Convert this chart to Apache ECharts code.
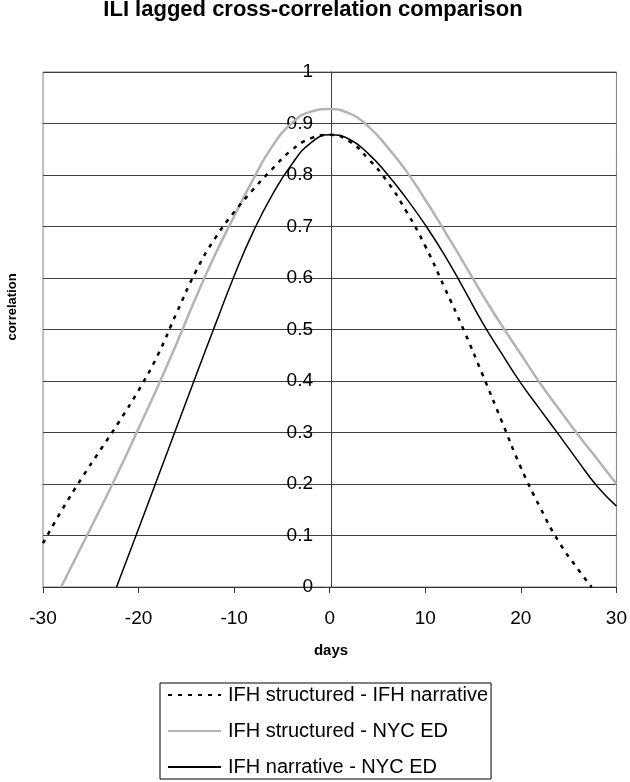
<!DOCTYPE html>
<html>
<head>
<meta charset="utf-8">
<script src="https://cdn.jsdelivr.net/npm/echarts@6/dist/echarts.min.js"></script>
<style>html,body{margin:0;padding:0;background:#fff}#c{width:630px;height:782px}</style>
</head>
<body>
<div id="c"></div>
<script>
var titleText = 'ILI lagged cross-correlation comparison';
var xAxisName = 'days';
var yAxisName = 'correlation';
var seriesNames = ['IFH structured - IFH narrative', 'IFH structured - NYC ED', 'IFH narrative - NYC ED'];

// [day, correlation]
var structNarrative = [[-30,0.085],[-28,0.15],[-26,0.21],[-24,0.266],[-22,0.322],[-20,0.382],[-18,0.45],[-16,0.533],[-14,0.613],[-12,0.677],[-10,0.728],[-8,0.772],[-6,0.812],[-4,0.848],[-2,0.871],[0,0.878],[2,0.866],[4,0.832],[6,0.788],[8,0.73],[10,0.662],[12,0.582],[14,0.5],[16,0.412],[18,0.322],[20,0.232],[22,0.155],[24,0.087],[26,0.034],[27.4,0]];
var structNYC = [[-28.1,0],[-26,0.078],[-24,0.152],[-22,0.228],[-20,0.308],[-18,0.389],[-16,0.474],[-14,0.562],[-12,0.645],[-10,0.72],[-8,0.792],[-6,0.856],[-4,0.9],[-2,0.923],[0,0.928],[2,0.92],[4,0.895],[6,0.855],[8,0.808],[10,0.752],[12,0.692],[14,0.63],[16,0.567],[18,0.508],[20,0.452],[22,0.396],[24,0.345],[26,0.295],[28,0.248],[30,0.2]];
var narrativeNYC = [[-22.3,0],[-22,0.015],[-20,0.113],[-18,0.212],[-16,0.311],[-14,0.41],[-12,0.508],[-10,0.604],[-8,0.69],[-6,0.762],[-4,0.82],[-2,0.862],[0,0.878],[2,0.87],[4,0.842],[6,0.802],[8,0.755],[10,0.703],[12,0.645],[14,0.58],[16,0.513],[18,0.453],[20,0.396],[22,0.345],[24,0.295],[26,0.244],[28,0.195],[30,0.157]];

var chart = echarts.init(document.getElementById('c'), null, {renderer: 'canvas'});
var FONT = '"Liberation Sans", Arial, sans-serif';
chart.setOption({
  animation: false,
  backgroundColor: '#fff',
  textStyle: {fontFamily: FONT},
  grid: {left: 43, right: 11, top: 72, bottom: 195, show: true, borderColor: '#808080', borderWidth: 1},
  graphic: [
    {type: 'text', x: 313, y: 10, style: {text: titleText, font: 'bold 22px ' + FONT, fill: '#000', align: 'center', verticalAlign: 'middle'}},
    {type: 'text', x: 331, y: 651, style: {text: xAxisName, font: 'bold 15px ' + FONT, fill: '#000', align: 'center', verticalAlign: 'middle'}},
    {type: 'text', x: 12, y: 307, rotation: Math.PI / 2, style: {text: yAxisName, font: 'bold 13px ' + FONT, fill: '#000', align: 'center', verticalAlign: 'middle'}}
  ],
  legend: {
    orient: 'vertical', left: 160, top: 683,
    padding: [2, 3, 2, 7],
    borderColor: '#000', borderWidth: 1,
    itemWidth: 53, itemHeight: 14, itemGap: 16,
    itemStyle: {opacity: 0},
    textStyle: {fontSize: 20, color: '#000', fontFamily: FONT, lineHeight: 20, padding: [0, 0, 0, 2]},
    data: seriesNames
  },
  xAxis: {
    type: 'value', min: -30, max: 30, interval: 10,
    axisLine: {show: true, onZero: false, lineStyle: {color: '#333', width: 1}},
    axisTick: {show: true, length: 6, lineStyle: {color: '#333'}},
    axisLabel: {fontSize: 19, color: '#000', margin: 22, fontFamily: FONT},
    splitLine: {show: false}
  },
  yAxis: {
    type: 'value', min: 0, max: 1, interval: 0.1,
    position: 'left', offset: -288,
    axisLine: {show: true, onZero: false, lineStyle: {color: '#404040', width: 1}},
    axisTick: {show: true, length: 7, lineStyle: {color: '#404040'}},
    axisLabel: {fontSize: 19, color: '#000', margin: 18, fontFamily: FONT,
      formatter: function (v) { return (v === 0 || v === 1) ? String(v) : v.toFixed(1); }},
    splitLine: {show: true, lineStyle: {color: '#404040', width: 1}}
  },
  series: [
    {name: seriesNames[0], type: 'line', data: structNarrative, smooth: 0.5, symbol: 'none', clip: true, z: 3,
      lineStyle: {color: '#000', width: 2.5, type: [4, 6]}, itemStyle: {color: '#000'}},
    {name: seriesNames[1], type: 'line', data: structNYC, smooth: 0.5, symbol: 'none', clip: true, z: 2,
      lineStyle: {color: '#b4b4b4', width: 2.5, type: 'solid'}, itemStyle: {color: '#b4b4b4'}},
    {name: seriesNames[2], type: 'line', data: narrativeNYC, smooth: 0.5, symbol: 'none', clip: true, z: 4,
      lineStyle: {color: '#000', width: 1.5, type: 'solid'}, itemStyle: {color: '#000'}}
  ]
});
</script>
</body>
</html>
